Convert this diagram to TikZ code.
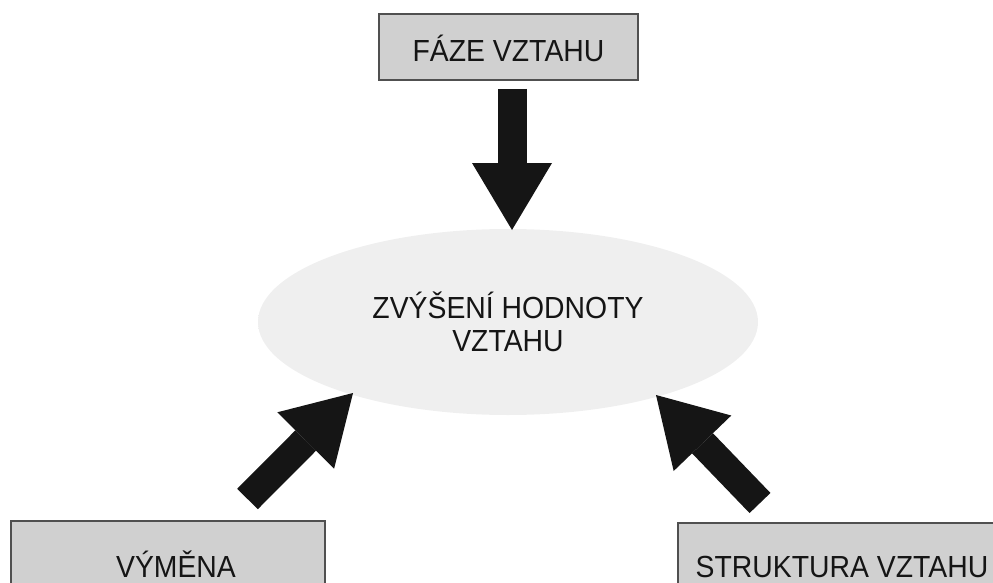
\documentclass[tikz,border=0pt]{standalone}
\usepackage{fontspec}
\setmainfont{Liberation Sans}[FakeStretch=0.93]
\usetikzlibrary{arrows.meta,shapes.geometric}

\definecolor{boxgray}{HTML}{D0D0D0}
\definecolor{boxline}{HTML}{505050}
\definecolor{ink}{HTML}{151515}
\definecolor{cloudgray}{HTML}{EFEFEF}
% soft grey fill that fades out towards the rim of the ellipse
\pgfdeclareradialshading{cloudfill}{\pgfpoint{0bp}{0bp}}{color(0bp)=(cloudgray); color(26bp)=(cloudgray); color(50bp)=(white)}

\begin{document}
\begin{tikzpicture}[x=1pt,y=-1pt,
  label box/.style={rectangle, draw=boxline, line width=1.2pt, fill=boxgray,
    inner sep=0pt, text height=30pt, text depth=0pt,
    font=\fontsize{30.5}{33}\selectfont, text=ink},
  fat arrow/.style={draw=ink, line width=29pt,
    -{Triangle[width=80pt,length=67pt,line width=0pt]}},
]
\useasboundingbox (0,0) rectangle (993,583);
\clip (0,0) rectangle (993,583);

% central goal
\node[ellipse, shading=cloudfill, minimum width=500pt, minimum height=186pt,
      inner sep=0pt, align=center, text=ink,
      font=\fontsize{30.5}{33}\selectfont] (cloud) at (508,322)
      {ZVÝŠENÍ HODNOTY\\VZTAHU};

% the three contributing factors
\node[label box, minimum width=259pt, minimum height=66pt] (faze) at (508.5,47) {FÁZE VZTAHU};
\node[label box, minimum width=314pt, minimum height=82pt] (vymena) at (168,562) {\hspace*{16pt}VÝMĚNA};
\node[label box, minimum width=328pt, minimum height=78pt] (struktura) at (842,562) {STRUKTURA VZTAHU};

% arrow ends
\coordinate (faze-out) at (512,89);
\coordinate (cloud-top) at (512,230);
\coordinate (vymena-out) at (247.5,499);
\coordinate (cloud-left) at (353,393);
\coordinate (struktura-out) at (760,503);
\coordinate (cloud-right) at (656,395);

\draw[fat arrow] (faze-out) -- (cloud-top);
\draw[fat arrow] (vymena-out) -- (cloud-left);
\draw[fat arrow] (struktura-out) -- (cloud-right);
\end{tikzpicture}
\end{document}
